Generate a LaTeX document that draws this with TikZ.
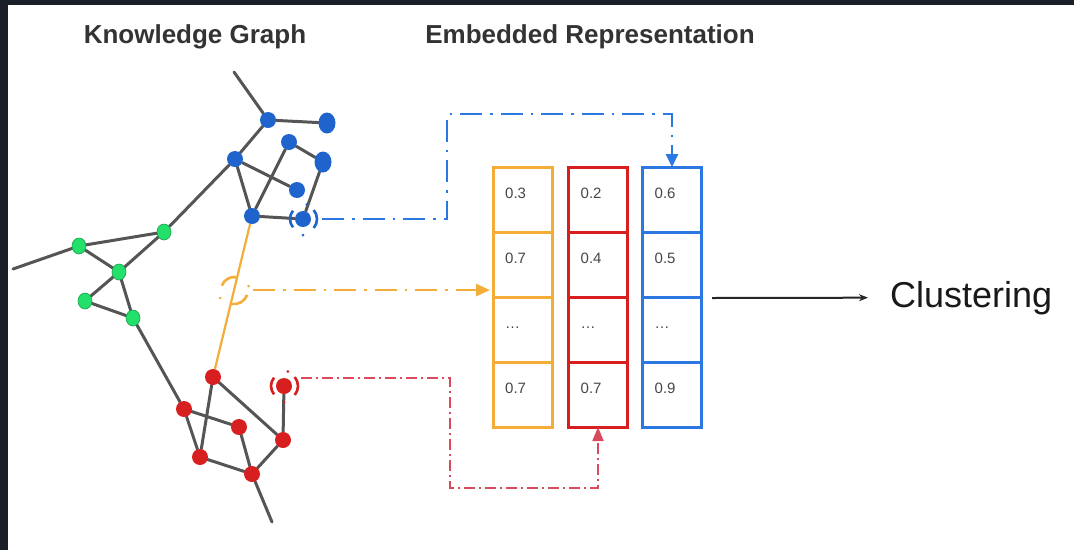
\documentclass[tikz,border=0pt]{standalone}
\usepackage{fontspec}
\setmainfont{Liberation Sans}
\usetikzlibrary{arrows.meta,calc,backgrounds,shapes.geometric}

\definecolor{kbg}{HTML}{1B1F27}
\definecolor{kedge}{HTML}{555555}
\definecolor{kblue}{HTML}{1F64CC}
\definecolor{kboxblue}{HTML}{2A78E0}
\definecolor{kred}{HTML}{D81F1F}
\definecolor{kpink}{HTML}{D84A5C}
\definecolor{korange}{HTML}{F5AD3A}
\definecolor{kgreen}{HTML}{22E06A}
\definecolor{ktext}{HTML}{333333}

\tikzset{
  signal/.pic={
    \draw[line width=2.6pt] (140:13pt) arc[start angle=140, end angle=220, radius=13pt];
    \draw[line width=2.6pt] (-40:14pt) arc[start angle=-40, end angle=40, radius=14pt];
    \fill (75:15pt) circle (1.5pt);
    \fill (270:16pt) circle (1.5pt);
  }
}

\begin{document}
\begin{tikzpicture}[x=1pt, y=-1pt,
    title/.style={anchor=base, inner sep=0pt, text=ktext, font=\fontsize{26}{30}\selectfont\bfseries},
    gnode/.style={ellipse, fill=kgreen, draw=kgreen!70!black, line width=0.6pt, minimum width=14pt, minimum height=16pt, inner sep=0pt},
    bnode/.style={circle, fill=kblue, minimum size=16pt, inner sep=0pt},
    bbig/.style={ellipse, fill=kblue, minimum width=17pt, minimum height=21pt, inner sep=0pt},
    rnode/.style={circle, fill=kred, minimum size=16pt, inner sep=0pt},
    link/.style={kedge, line width=3pt, line cap=round},
    cell/.style={rectangle, line width=3pt, minimum width=59pt, minimum height=65pt, inner sep=0pt, outer sep=0pt},
    num/.style={anchor=base west, inner sep=0pt, text=ktext!90, font=\fontsize{15}{18}\selectfont},
    bluelink/.style={kboxblue, line width=2.8pt, dash pattern=on 22pt off 8pt on 2.5pt off 8pt, -{Triangle[length=13pt, width=12pt]}},
    orangelink/.style={korange, line width=2.8pt, dash pattern=on 22pt off 8pt on 2.5pt off 8pt, shorten >=3pt, -{Triangle[length=14pt, width=12pt]}},
    redlink/.style={kpink, line width=1.8pt, dash pattern=on 11pt off 4pt on 2pt off 4pt, -{Triangle[length=14pt, width=11pt]}},
    clarrow/.style={black!85, line width=2pt, -{Stealth[length=9pt, width=7pt]}}]

    % frame
    \begin{scope}[on background layer]
        \fill[kbg] (0,0) rectangle (1074,550);
        \fill[white] (8,5) rectangle (1074,550);
    \end{scope}

    \node[title] (kgtitle) at (195,43) {Knowledge Graph};
    \node[title] (emtitle) at (590,43) {Embedded Representation};

    % graph
    \node[gnode] (gr1) at (79,246) {};
    \node[gnode] (gr2) at (164,232) {};
    \node[gnode] (gr3) at (119,272) {};
    \node[gnode] (gr4) at (85,301) {};
    \node[gnode] (gr5) at (133,318) {};
    \node[bnode] (bl1) at (268,120) {};
    \node[bbig]  (bl2) at (327,123) {};
    \node[bnode] (bl3) at (289,142) {};
    \node[bbig]  (bl4) at (323,162) {};
    \node[bnode] (bl5) at (235,159) {};
    \node[bnode] (bl6) at (297,190) {};
    \node[bnode] (bl7) at (252,216) {};
    \node[bnode] (bl8) at (303,219) {};
    \node[rnode] (rd1) at (213,377) {};
    \node[rnode] (rd2) at (284,386) {};
    \node[rnode] (rd3) at (184,409) {};
    \node[rnode] (rd4) at (239,427) {};
    \node[rnode] (rd5) at (283,440) {};
    \node[rnode] (rd6) at (200,457) {};
    \node[rnode] (rd7) at (252,474) {};
    \coordinate (btop) at (234,72);
    \coordinate (gleft) at (13,269);
    \coordinate (rbot) at (272,522);
    \coordinate (osig) at ($(bl7)!0.46!(rd1)$);

    \begin{scope}[on background layer]
        \draw[link] (btop) -- (bl1) -- (bl2);
        \draw[link] (bl1) -- (bl5) -- (gr2) -- (gr1) -- (gleft);
        \draw[link] (bl5) -- (bl6);
        \draw[link] (bl5) -- (bl7) -- (bl3) -- (bl4) -- (bl8) -- (bl7);
        \draw[link] (gr1) -- (gr3) -- (gr2);
        \draw[link] (gr3) -- (gr4) -- (gr5) -- (gr3);
        \draw[link] (gr5) -- (rd3);
        \draw[link] (rd1) -- (rd6);
        \draw[link] (rd1) -- (rd5);
        \draw[link] (rd3) -- (rd4) -- (rd7);
        \draw[link] (rd3) -- (rd6) -- (rd7) -- (rd5) -- (rd2);
        \draw[link] (rd7) -- (rbot);
        \draw[korange, line width=2.2pt] (bl7) -- (rd1);
    \end{scope}

    \pic[color=kblue] at (bl8) {signal};
    \pic[color=kred] at (rd2) {signal};
    \pic[color=korange, rotate=-60] at (osig) {signal};

    % embedding vectors
    \foreach \col/\x/\clr/\va/\vb/\vd in {ov/522.5/korange/0.3/0.7/0.7, rv/598/kred/0.2/0.4/0.7, bv/672/kboxblue/0.6/0.5/0.9}{
        \foreach \i/\v in {1/\va, 2/\vb, 3/{\ldots}, 4/\vd}{
            \node[cell, draw=\clr] (\col\i) at (\x,{134.5+65*\i}) {};
            \node[num] (\col\i t) at ($(\col\i.north west)+(12,31)$) {\v};
        }
    }

    % links
    \coordinate (bstart) at ($(bl8)+(19,0)$);
    \coordinate (rstart) at ($(rd2)+(17,-8)$);
    \coordinate (ostart) at ($(osig)+(19,0)$);
    \draw[bluelink] (bstart) -| (447,114) -| (bv1.north);
    \draw[orangelink] (ostart) -- (ostart -| ov2.west);
    \draw[redlink] (rstart) -| (450,488) -| (rv4.south);

    \coordinate (clstart) at (712,298);
    \node[anchor=base west, inner sep=0pt, text=black!90, font=\fontsize{36}{40}\selectfont] (clus) at (890,307) {Clustering};
    \draw[clarrow] (clstart) -- ([xshift=-22pt]clus.west);
\end{tikzpicture}
\end{document}
